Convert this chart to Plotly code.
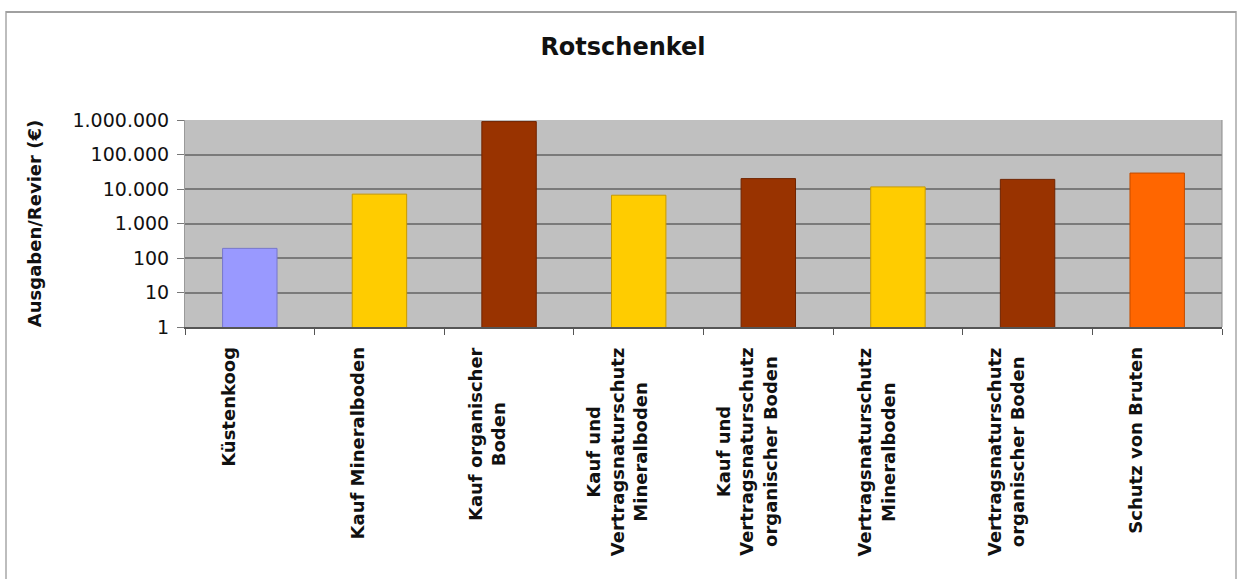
import plotly.graph_objects as go

# Kosten je Revier für den Rotschenkel, nach Maßnahme
categories = [
    "Küstenkoog",
    "Kauf Mineralboden",
    "Kauf organischer<br>Boden",
    "Kauf und<br>Vertragsnaturschutz<br>Mineralboden",
    "Kauf und<br>Vertragsnaturschutz<br>organischer Boden",
    "Vertragsnaturschutz<br>Mineralboden",
    "Vertragsnaturschutz<br>organischer Boden",
    "Schutz von Bruten",
]
values = [190, 7100, 900000, 6600, 20000, 11500, 19000, 29000]
bar_colors = ["#9999FF", "#FFCC00", "#993300", "#FFCC00",
              "#993300", "#FFCC00", "#993300", "#FF6600"]
edge_colors = ["#7777CC", "#C89A00", "#702400", "#C89A00",
               "#702400", "#C89A00", "#702400", "#C04C00"]
tick_values = [1, 10, 100, 1000, 10000, 100000, 1000000]
tick_labels = ["1", "10", "100", "1.000", "10.000", "100.000", "1.000.000"]

W, H = 1239, 579
ML, MR, MT, MB = 185, 17, 120, 252
FONT = "DejaVu Sans, Verdana, sans-serif"

x_ids = list(range(len(categories)))

fig = go.Figure(go.Bar(
    x=x_ids,
    y=values,
    marker=dict(color=bar_colors, line=dict(color=edge_colors, width=1)),
    width=0.42,
    hoverinfo="skip",
))

# rotated category labels, lines centred like the spreadsheet original
for i, cat in enumerate(categories):
    fig.add_annotation(
        x=i, y=0, xref="x", yref="paper",
        text="<b>" + cat + "</b>",
        textangle=-90, align="center",
        xanchor="center", yanchor="top",
        xshift=-22, yshift=-18,
        showarrow=False,
        font=dict(family=FONT, size=18, color="#111111"),
    )

# outer chart frame
pw, ph = W - ML - MR, H - MT - MB
def px_x(p):
    return (p - ML) / pw
def px_y(p):
    return (H - MB - p) / ph
fig.add_shape(type="rect", xref="paper", yref="paper",
              x0=px_x(6), x1=px_x(1236), y0=px_y(600), y1=px_y(12),
              line=dict(color="#BDBDBD", width=2), fillcolor="rgba(0,0,0,0)",
              layer="below")
fig.add_shape(type="line", xref="paper", yref="paper",
              x0=px_x(6), x1=px_x(1236), y0=px_y(12), y1=px_y(12),
              line=dict(color="#A0A0A0", width=2), layer="below")

fig.update_layout(
    width=W, height=H,
    margin=dict(l=ML, r=MR, t=MT, b=MB),
    paper_bgcolor="white",
    plot_bgcolor="#C0C0C0",
    showlegend=False,
    title=dict(text="<b>Rotschenkel</b>", x=623 / W, xref="container",
               xanchor="center", y=1 - 47 / H, yref="container",
               yanchor="middle",
               font=dict(family=FONT, size=24, color="#111111")),
    xaxis=dict(
        type="linear",
        range=[-0.5, len(categories) - 0.5],
        tickvals=[i - 0.5 for i in range(len(categories) + 1)],
        showticklabels=False,
        ticks="outside", ticklen=6, tickcolor="#555555", tickwidth=1,
        showgrid=False, zeroline=False,
        showline=True, linecolor="#555555", linewidth=2,
        mirror=False,
    ),
    yaxis=dict(
        type="log",
        range=[0, 6],
        tickvals=tick_values,
        ticktext=tick_labels,
        tickfont=dict(family=FONT, size=19, color="#111111"),
        ticks="outside", ticklen=7, tickcolor="#777777",
        ticklabelstandoff=4,
        showgrid=True, gridcolor="#7A7A7A", gridwidth=2,
        zeroline=False,
        showline=True, linecolor="#9A9A9A", linewidth=1,
        title=dict(text="<b>Ausgaben/Revier (€)</b>",
                   font=dict(family=FONT, size=18, color="#111111"),
                   standoff=26),
    ),
)
# right edge of the plot area
fig.add_shape(type="line", xref="paper", yref="paper",
              x0=1, x1=1, y0=0, y1=1, line=dict(color="#8A8A8A", width=1))

fig.write_html("out.html")
